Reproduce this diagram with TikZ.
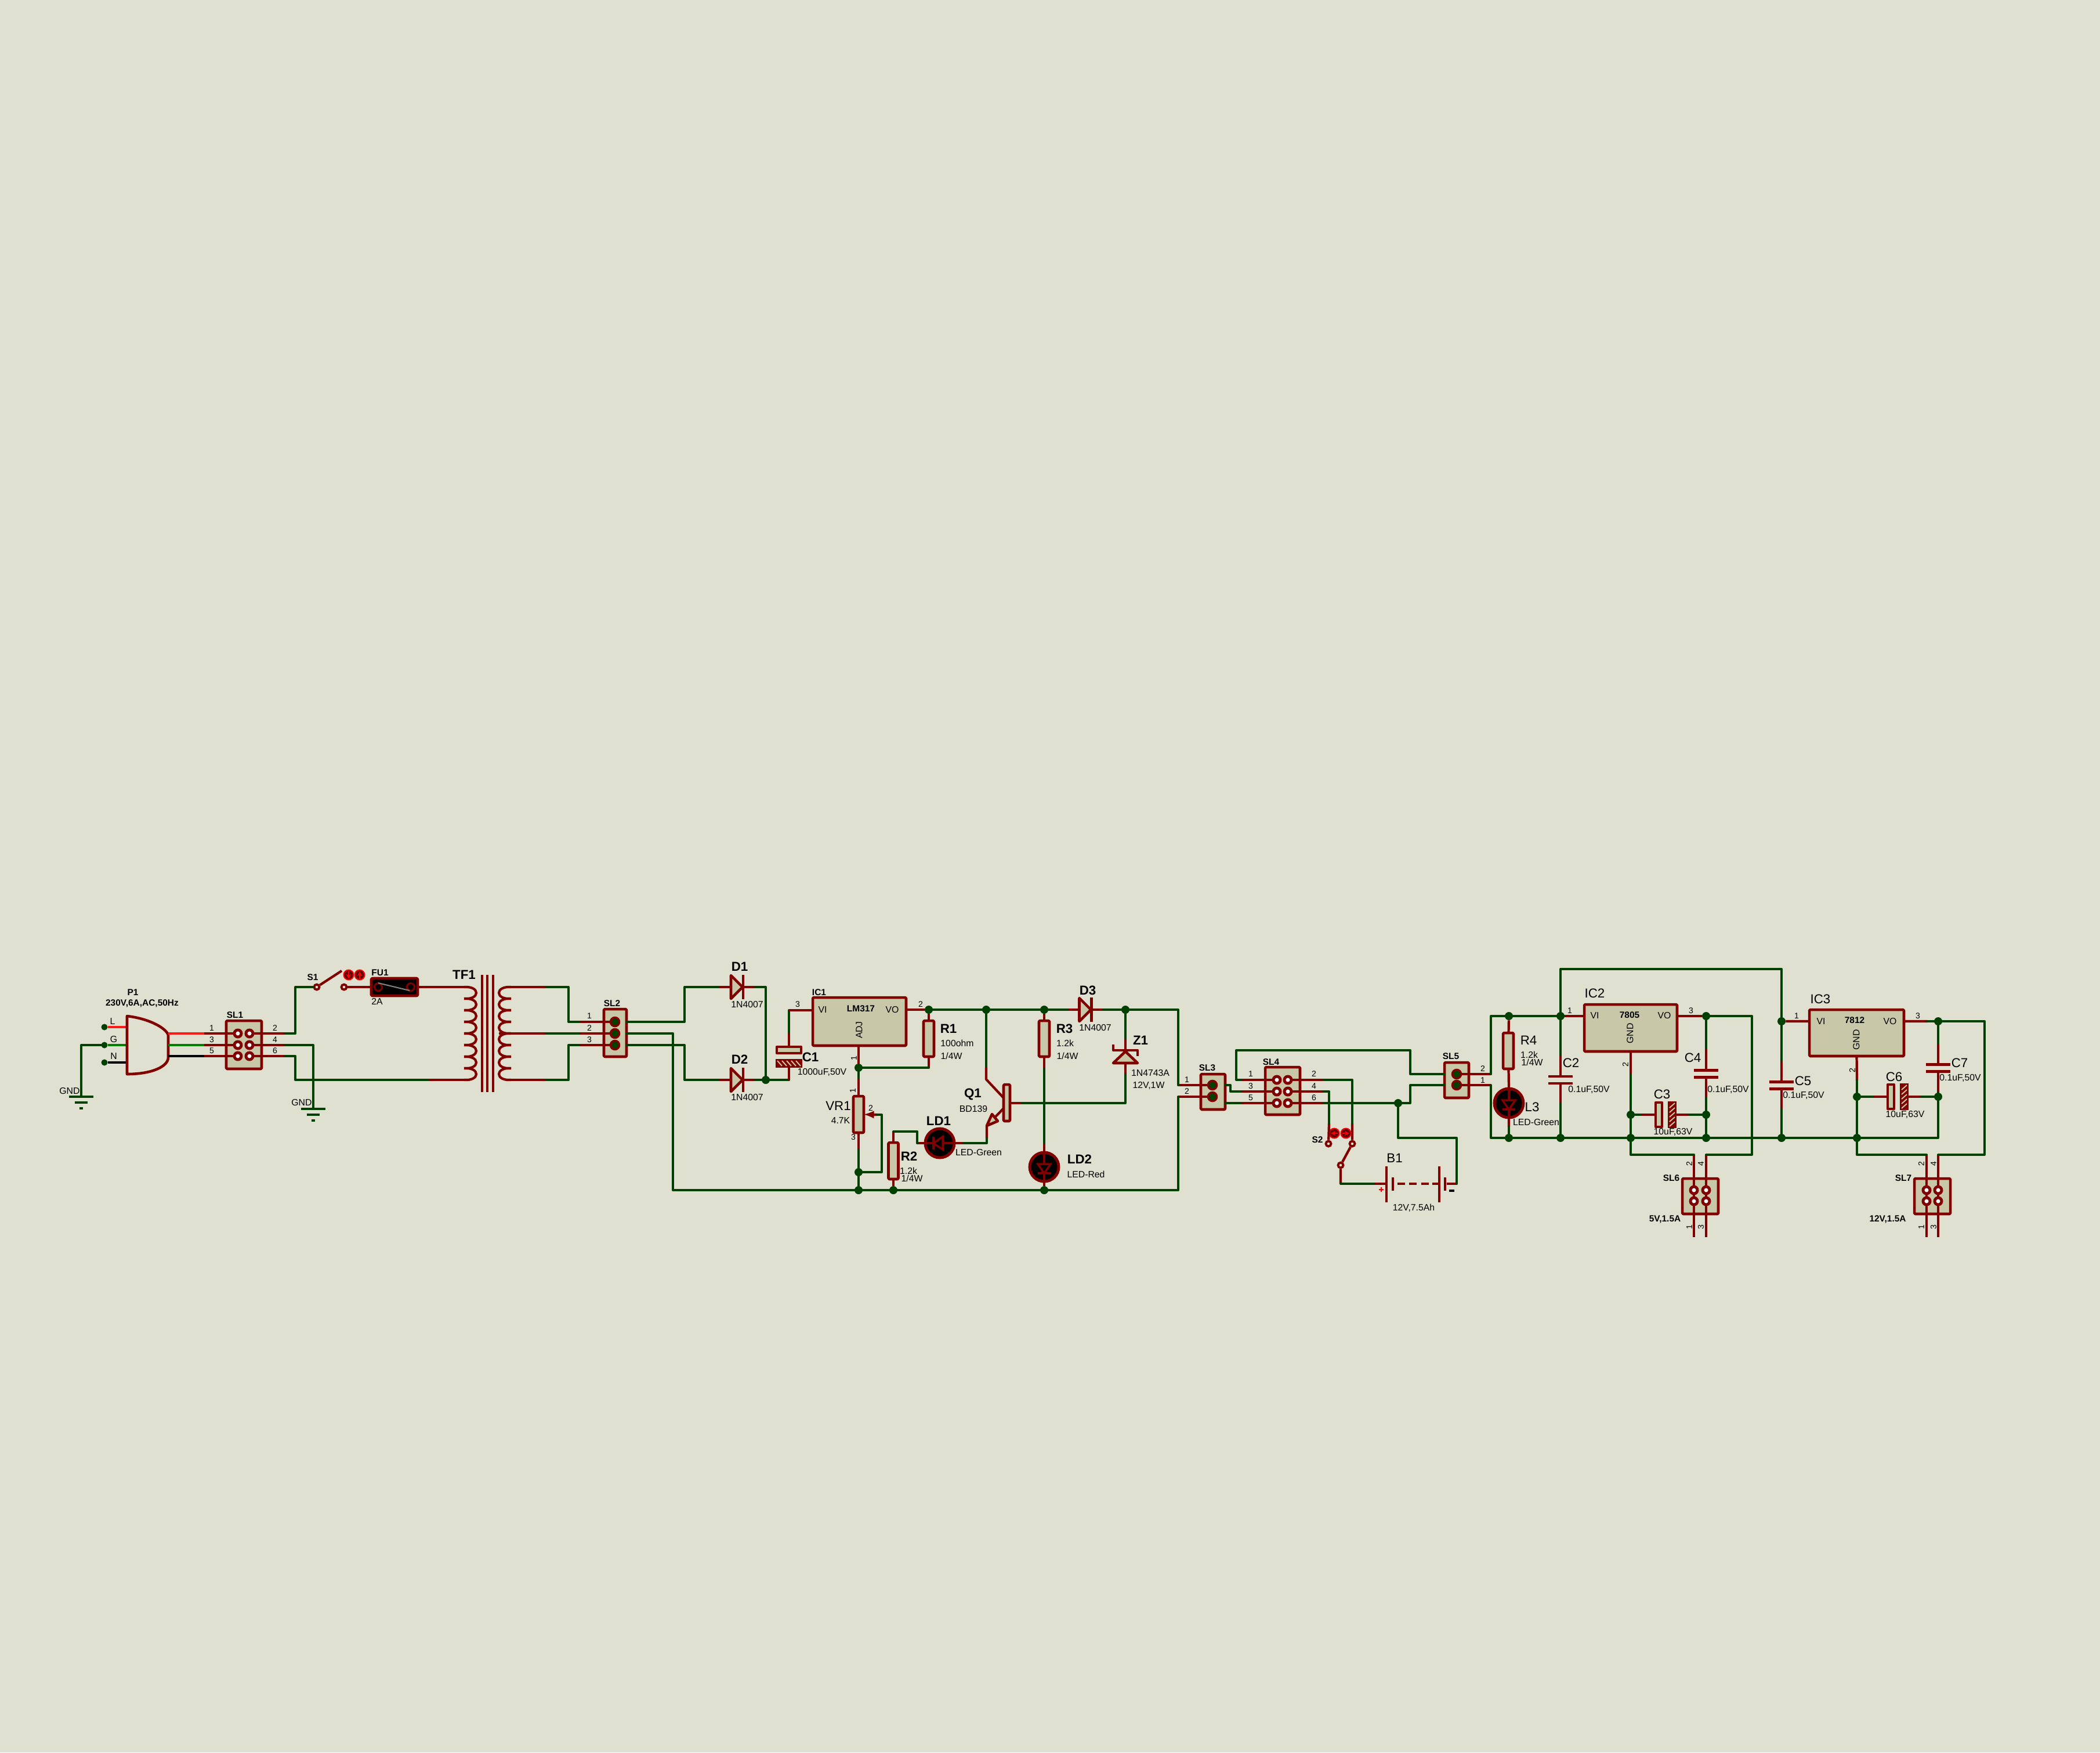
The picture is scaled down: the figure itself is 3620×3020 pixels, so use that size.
\documentclass[tikz,border=0pt]{standalone}
\usepackage{fontspec}
\setmainfont{Liberation Sans}
\definecolor{bgcol}{RGB}{224,224,208}
\definecolor{wirecol}{RGB}{0,64,0}
\definecolor{partcol}{RGB}{128,0,0}
\definecolor{fillcol}{RGB}{200,200,168}
\tikzset{
  wire/.style={draw=wirecol,line width=2.3pt,line join=round,line cap=round},
  lead/.style={draw=partcol,line width=2.4pt,line join=round},
  part/.style={draw=partcol,fill=fillcol,line width=2.6pt,line join=round},
  box/.style={part,rectangle,rounded corners=.03cm,inner sep=0pt,outer sep=0pt},
  dot/.style={circle,fill=wirecol,inner sep=0pt,minimum size=.28cm},
  pin/.style={circle,draw=partcol,fill=wirecol,line width=2pt,inner sep=0pt,minimum size=.3cm},
  hole/.style={circle,draw=partcol,fill=white,line width=2.8pt,inner sep=0pt,minimum size=.24cm},
  contact/.style={circle,draw=partcol,fill=bgcol,line width=2.2pt,inner sep=0pt,minimum size=.18cm},
  btn/.style={circle,draw=red,fill=partcol!75!black,line width=1.1pt,inner sep=0pt,minimum size=.34cm},
  big/.style={inner sep=0pt,font=\fontsize{12.7}{14}\selectfont},
  bigb/.style={inner sep=0pt,font=\fontsize{12.7}{14}\selectfont\bfseries},
  small/.style={inner sep=0pt,font=\fontsize{9}{10}\selectfont},
  smallb/.style={inner sep=0pt,font=\fontsize{8.8}{10}\selectfont\bfseries},
  pinno/.style={inner sep=0pt,font=\fontsize{8}{9}\selectfont},
  diode/.pic={
    \draw[part] (-10,-20)--(10,0)--(-10,20)--cycle;
    \draw[lead] (11,-21)--(11,21);
    \coordinate (-a) at (-10,0);
    \coordinate (-k) at (11,0);
  },
  ledlamp/.pic={
    \draw[draw=partcol,fill=black,line width=2.8pt] (0,0) circle (25);
    \draw[lead] (0,-25)--(0,25);
    \draw[draw=partcol,fill=black,line width=2pt] (-11,-5)--(11,-5)--(0,11)--cycle;
    \draw[lead] (-11,11)--(11,11);
    \coordinate (-a) at (0,-25);
    \coordinate (-k) at (0,25);
  },
  plates/.pic={
    \draw[lead] (-21,-6)--(21,-6) (-21,6)--(21,6);
    \coordinate (-t) at (0,-6);
    \coordinate (-b) at (0,6);
  },
  polar/.pic={
    \draw[part] (-17,-21) rectangle (-6,21);
    \fill[partcol,draw=partcol,line width=2.6pt] (6,-21) rectangle (17,21);
    \foreach \s in {-16,-8,...,16}
      \draw[fillcol,line width=1.1pt] (7,\s+4)--(16,\s-4);
    \coordinate (-p) at (-17,0);
    \coordinate (-n) at (17,0);
  },
  earth/.pic={
    \draw[wire,line cap=butt,line width=2.8pt] (-21,0)--(21,0) (-11,10)--(11,10) (-3,20)--(3,20);
    \coordinate (-t) at (0,0);
  }
}
\begin{document}
\begin{tikzpicture}[x=.02cm,y=-.02cm]
\fill[bgcol] (0,0) rectangle (3620,3020);
\useasboundingbox (0,0) rectangle (3620,3020);
% mains plug
\node[dot,minimum size=.22cm] (PL) at (180,1770) {};
\node[dot,minimum size=.22cm] (PG) at (180,1801) {};
\node[dot,minimum size=.22cm] (PN) at (180,1831) {};
\draw[line width=2.2pt,red!90!white] (PL)--(221,1770);
\draw[line width=2.2pt,green!50!black] (PG)--(221,1801);
\draw[line width=2.2pt,black] (PN)--(221,1831);
\draw[part,fill=none] (219,1751) .. controls (262,1756) and (290,1775) .. (290,1785) -- (290,1822) .. controls (290,1838) and (262,1851) .. (219,1851) -- cycle;
\coordinate (Lo) at (352,1781);
\coordinate (Go) at (352,1801);
\coordinate (No) at (352,1820);
\draw[line width=2.4pt,red!90!white] (290,1781)--(Lo);
\draw[line width=2.4pt,green!50!black] (290,1801)--(Go);
\draw[line width=2.4pt,black] (290,1820)--(No);
\pic (G1) at (140,1890) {earth};
\pic (G2) at (540,1911) {earth};
\draw[wire] (PG) -| (G1-t);
% SL1
\node[box,minimum width=1.22cm,minimum height=1.66cm] (SL1) at (420.5,1800.5) {};
\foreach \n/\hx/\hy in {1/410/1781,3/410/1801,5/410/1820,2/430/1781,4/430/1801,6/430/1820}
  \node[hole] (SL1n\n) at (\hx,\hy) {};
\coordinate (r2) at (492,1781);
\coordinate (r4) at (492,1801);
\coordinate (r6) at (492,1820);
\draw[lead] (Lo)--(SL1n1) (Go)--(SL1n3) (No)--(SL1n5) (SL1n2)--(r2) (SL1n4)--(r4) (SL1n6)--(r6);
% S1 and fuse
\node[contact] (S1a) at (546,1701) {};
\node[contact] (S1b) at (593,1701) {};
\coordinate (S1c) at (589,1673);
\node[btn] (S1u) at (601,1680) {};
\node[btn] (S1v) at (620,1680) {};
\draw[-stealth,red,line width=1.1pt] (601,1674)--(601,1687);
\draw[-stealth,red,line width=1.1pt] (620,1687)--(620,1674);
\draw[lead] (S1a)--(S1c);
\node[box,fill=black,minimum width=1.6cm,minimum height=.6cm] (FU1) at (680,1701) {};
\draw[draw=partcol,line width=1.8pt] (652,1701) circle (6.5) (708,1701) circle (6.5);
\draw[gray,line width=1.2pt] (652,1694)--(706,1707);
\coordinate (Pt) at (802,1701);
\coordinate (Pb) at (802,1861);
\coordinate (Tb) at (738,1861);
\draw[lead] (S1b)--(FU1) (FU1)--(Pt) (Tb)--(Pb);
\draw[wire] (r2) -- ++(17,0) |- (S1a);
\draw[wire] (r4) -| (G2-t);
\draw[wire] (r6) -- ++(17,0) |- (Tb);
% TF1
\foreach \i in {0,...,7}{
  \pgfmathsetmacro{\yy}{1701+20*\i}
  \pgfmathsetmacro{\yz}{\yy+20}
  \draw[lead] (800,\yy) .. controls (828,\yy-2) and (828,\yz+2) .. (800,\yz);
  \draw[lead] (881,\yy) .. controls (853,\yy-2) and (853,\yz+2) .. (881,\yz);
}
\foreach \cx in {831,840,850}
  \draw[draw=partcol,line width=2pt] (\cx,1680)--(\cx,1882);
\coordinate (St) at (878,1701);
\coordinate (Sm) at (860,1781);
\coordinate (Sb) at (878,1861);
\coordinate (Sa) at (942,1701);
\coordinate (Sc) at (942,1781);
\coordinate (Sd) at (942,1861);
\draw[lead] (St)--(Sa) (Sm)--(Sc) (Sb)--(Sd);
% SL2
\node[box,minimum width=.78cm,minimum height=1.64cm] (SL2) at (1060.5,1780) {};
\foreach \n/\hy in {1/1761,2/1781,3/1801}
  \node[pin] (SL2p\n) at (1060,\hy) {};
\coordinate (Se) at (998,1761);
\coordinate (Sf) at (998,1781);
\coordinate (Sg) at (998,1801);
\draw[lead] (Se)--(SL2p1) (Sf)--(SL2p2) (Sg)--(SL2p3);
\draw[wire] (Sa) -- ++(38,0) |- (Se);
\draw[wire] (Sc) -- (Sf);
\draw[wire] (Sd) -- ++(38,0) |- (Sg);
% rectifier
\pic (D1) at (1270,1701) {diode};
\pic (D2) at (1270,1861) {diode};
\coordinate (D1l) at (1238,1701);
\coordinate (D1r) at (1302,1701);
\coordinate (D2l) at (1238,1861);
\coordinate (D2r) at (1302,1861);
\node[dot] (J1) at (1320,1861) {};
\draw[lead] (D1l)--(D1-a) (D1-k)--(D1r) (D2l)--(D2-a) (D2-k)--(D2r);
\draw[wire] (SL2.east |- SL2p1) -- (1180,1761) |- (D1l);
\draw[wire] (SL2.east |- SL2p3) -- (1180,1801) |- (D2l);
\draw[wire] (D1r) -| (J1);
\draw[wire] (D2r) -- (J1);
\pic[rotate=-90] (C1) at (1360,1821) {polar};
\coordinate (C1b) at (1360,1861);
\coordinate (C1t) at (1360,1779);
\coordinate (C1u) at (1360,1741);
\draw[wire] (J1)--(C1b);
\draw[lead] (C1b)--(C1-n) (C1-p)--(C1t);
\draw[wire] (C1t)--(C1u);
% LM317
\node[box,minimum width=3.22cm,minimum height=1.66cm] (IC1) at (1481.5,1760.5) {};
\draw[lead] (C1u)--(IC1.west |- C1u);
\node[dot] (J2) at (1480,1840) {};
\node[dot] (J3) at (1480,2020) {};
\node[dot] (J4) at (1480,2051) {};
\node[dot] (J5) at (1601,1740) {};
\node[dot] (J6) at (1700,1740) {};
\node[dot] (J7) at (1800,1740) {};
\node[dot] (J8) at (1940,1740) {};
\node[dot] (J9) at (1540,2051) {};
\node[dot] (J10) at (1800,2051) {};
\draw[lead] (J2 |- IC1.south)--(J2);
\draw[lead] (IC1.east |- J5)--(J5);
% VR1
\node[box,minimum width=.36cm,minimum height=1.26cm] (VR1) at (1480,1920.5) {};
\coordinate (VRt) at (1480,1859);
\coordinate (VRb) at (1480,1982);
\coordinate (Wp) at (1512,1921);
\draw[wire] (J2)--(VRt);
\draw[lead] (VRt)--(VR1.north);
\draw[lead] (VR1.south)--(VRb);
\draw[wire] (VRb)--(J3)--(J4);
\draw[lead,-latex] (Wp)--(VR1.east);
\draw[wire] (Wp) -- (1520,1921) |- (J3);
% R1
\node[box,minimum width=.36cm,minimum height=1.24cm] (R1) at (1601,1790) {};
\coordinate (R1b) at (1601,1840);
\draw[lead] (J5)--(R1) (R1)--(R1b);
\draw[wire] (R1b)--(J2);
% R2 and LD1
\node[box,minimum width=.34cm,minimum height=1.26cm] (R2) at (1540,2000.5) {};
\pic[rotate=-90] (LD1) at (1620,1970) {ledlamp};
\coordinate (R2t) at (1540,1950);
\coordinate (LD1l) at (1581,1970);
\coordinate (LD1r) at (1661,1970);
\draw[lead] (R2t)--(R2) (R2)--(J9) (LD1l)--(LD1-k) (LD1-a)--(LD1r);
\draw[wire] (LD1l) |- (R2t);
% Q1
\node[box,minimum width=.22cm,minimum height=1.26cm] (Q1) at (1735.5,1900.5) {};
\coordinate (Qc) at (1700,1840);
\coordinate (Qb) at (1762,1901);
\coordinate (Qe) at (1701,1962);
\draw[wire] (J6)--(Qc);
\draw[lead] (Qc) -- ++(0,20) -- (1730,1892);
\draw[lead] (1730,1910)--(1701,1940)--(Qe);
\draw[part] (1701,1940)--(1710,1920)--(1720,1932)--cycle;
\draw[lead] (Q1.east |- Qb)--(Qb);
\draw[wire] (Qe) |- (LD1r);
% R3 and LD2
\node[box,minimum width=.36cm,minimum height=1.24cm] (R3) at (1800,1790) {};
\pic (LD2) at (1800,2011) {ledlamp};
\coordinate (R3b) at (1800,1842);
\coordinate (LD2t) at (1800,1970);
\draw[lead] (J7)--(R3) (R3)--(R3b) (LD2t)--(LD2-a) (LD2-k)--(J10);
\draw[wire] (R3b)--(LD2t);
% D3 and Z1
\pic (D3) at (1870.5,1740) {diode};
\coordinate (D3l) at (1840,1740);
\coordinate (D3r) at (1902,1740);
\draw[lead] (D3l)--(D3-a) (D3-k)--(D3r);
\draw[wire] (J5)--(J6)--(J7)--(D3l);
\draw[wire] (D3r)--(J8);
\coordinate (Z1t) at (1940,1789);
\coordinate (Z1b) at (1940,1852);
\coordinate (Z1k) at (1940,1810);
\coordinate (Z1a) at (1940,1832);
\draw[part] (1919,1832)--(1940,1812)--(1961,1832)--cycle;
\draw[lead] (1919,1800)--(1919,1810)--(1961,1810)--(1961,1820);
\draw[lead] (Z1t)--(Z1k) (Z1a)--(Z1b);
\draw[wire] (J8)--(Z1t);
\draw[wire] (Qb) -| (Z1b);
% SL3
\node[box,minimum width=.84cm,minimum height=1.22cm] (SL3) at (2091,1881.5) {};
\node[pin] (SL3p1) at (2090,1870) {};
\node[pin] (SL3p2) at (2090,1890) {};
\coordinate (SL3a) at (2031,1870);
\coordinate (SL3b) at (2031,1890);
\draw[lead] (SL3a)--(SL3p1) (SL3b)--(SL3p2);
\draw[wire] (J8) -| (SL3a);
\draw[wire] (SL2.east |- SL2p2) -- (1160,1781) |- (2031,2051) -- (SL3b);
% SL4
\node[box,minimum width=1.2cm,minimum height=1.64cm] (SL4) at (2211,1880) {};
\foreach \n/\hx/\hy in {1/2201/1861,3/2201/1881,5/2201/1901,2/2220/1861,4/2220/1881,6/2220/1901}
  \node[hole] (SL4n\n) at (\hx,\hy) {};
\coordinate (S4a) at (2139,1861);
\coordinate (S4e) at (2139,1881);
\coordinate (S4f) at (2139,1901);
\coordinate (S4b) at (2282,1861);
\coordinate (S4c) at (2282,1881);
\coordinate (S4d) at (2282,1901);
\draw[lead] (S4a)--(SL4n1) (S4e)--(SL4n3) (S4f)--(SL4n5) (SL4n2)--(S4b) (SL4n4)--(S4c) (SL4n6)--(S4d);
\draw[wire] (SL3.east |- SL3p1) -- (2121,1870) |- (S4e);
\draw[wire] (SL3.east |- S4f) -- (S4f);
% SL5
\node[box,minimum width=.84cm,minimum height=1.22cm] (SL5) at (2511,1861.5) {};
\node[pin] (SL5p2) at (2511,1851) {};
\node[pin] (SL5p1) at (2511,1870) {};
\coordinate (S5a) at (2570,1851);
\coordinate (S5b) at (2570,1870);
\draw[lead] (SL5p2)--(S5a) (SL5p1)--(S5b);
\draw[wire] (S4a) -- ++(-8,0) |- (2431,1810) |- (SL5.west |- SL5p2);
\node[dot] (J11) at (2410,1901) {};
\draw[wire] (S4d)--(J11) -- (2431,1901) |- (SL5.west |- SL5p1);
% S2 and B1
\node[contact] (S2a) at (2290,1971) {};
\node[contact] (S2b) at (2331,1971) {};
\node[contact] (S2c) at (2311,2008) {};
\node[btn] (S2u) at (2300,1953) {};
\node[btn] (S2v) at (2320,1953) {};
\draw[-stealth,red,line width=1.1pt] (2306,1953)--(2294,1953);
\draw[-stealth,red,line width=1.1pt] (2314,1953)--(2326,1953);
\coordinate (S2e) at (2291,1936);
\coordinate (S2f) at (2331,1936);
\coordinate (S2s) at (2311,2040);
\draw[lead] (S2e)--(S2a) (S2f)--(S2b) (S2b)--(S2c) (S2c)--(S2s);
\draw[wire] (S4c) -| (S2e);
\draw[wire] (S4b) -| (S2f);
\coordinate (B1a) at (2369,2040);
\coordinate (B1r) at (2511,2040);
\draw[wire] (S2s)--(B1a);
\draw[lead] (B1a)--(2390,2040) (2494,2040)--(B1r);
\draw[lead] (2390,2010)--(2390,2072) (2481,2010)--(2481,2072);
\draw[lead,line width=2.8pt] (2401,2029)--(2401,2052) (2491,2029)--(2491,2052);
\foreach \sx in {2409,2429,2450,2469}
  \draw[lead] (\sx,2040)--(\sx+13,2040);
\draw[wire] (J11) |- (2511,1961) -- (B1r);
\fill[red] (2377,2049) rectangle (2385,2051) (2380,2046) rectangle (2382,2054);
\fill[black] (2498,2050) rectangle (2507,2054);
% R4 and L3
\node[dot] (J12) at (2601,1751) {};
\node[dot] (J13) at (2601,1961) {};
\node[dot] (J14) at (2690,1751) {};
\node[dot] (J17) at (2690,1961) {};
\node[box,minimum width=.36cm,minimum height=1.24cm] (R4) at (2600,1811) {};
\pic (L3) at (2601,1901) {ledlamp};
\coordinate (L3b) at (2601,1942);
\draw[lead] (J12)--(R4) (R4)--(L3-a) (L3-k)--(L3b);
\draw[wire] (L3b)--(J13);
\draw[wire] (S5a) |- (J12);
\draw[wire] (J12)--(J14);
\draw[wire] (S5b) |- (J13);
% IC2
\node[box,minimum width=3.2cm,minimum height=1.62cm] (IC2) at (2811,1771.5) {};
\node[dot] (J18) at (2811,1961) {};
\node[dot] (J19) at (2941,1961) {};
\node[dot] (J22) at (2941,1751) {};
\node[dot] (J23) at (2941,1921) {};
\node[dot] (J24) at (2811,1921) {};
\draw[lead] (J14)--(IC2.west |- J14) (IC2.east |- J22)--(J22);
\pic (C2) at (2690,1861) {plates};
\coordinate (C2t) at (2690,1820);
\coordinate (C2b) at (2690,1902);
\draw[wire] (J14)--(C2t);
\draw[lead] (C2t)--(C2-t) (C2-b)--(C2b);
\draw[wire] (C2b)--(J17);
\pic (C4) at (2941,1850.5) {plates};
\coordinate (C4t) at (2941,1808);
\coordinate (C4b) at (2941,1892);
\draw[wire] (J22)--(C4t);
\draw[lead] (C4t)--(C4-t) (C4-b)--(C4b);
\draw[wire] (C4b)--(J23)--(J19);
\coordinate (IC2g) at (2811,1852);
\draw[lead] (IC2.south)--(IC2g);
\draw[wire] (IC2g)--(J24)--(J18);
\pic (C3) at (2871,1921) {polar};
\coordinate (C3l) at (2830,1921);
\coordinate (C3r) at (2912,1921);
\draw[wire] (J24)--(C3l);
\draw[lead] (C3l)--(C3-p) (C3-n)--(C3r);
\draw[wire] (C3r)--(J23);
% SL6
\node[box,minimum width=1.24cm,minimum height=1.22cm] (SL6) at (2931,2061.5) {};
\coordinate (S6a) at (2920,1990);
\coordinate (S6b) at (2941,1990);
\coordinate (S6c) at (2920,2132);
\coordinate (S6d) at (2941,2132);
\draw[lead] (S6a)--(S6c) (S6b)--(S6d);
\foreach \n/\hx/\hy in {2/2920/2051,4/2941/2051,1/2920/2070,3/2941/2070}
  \node[hole] (SL6n\n) at (\hx,\hy) {};
\draw[wire] (J18) |- (S6a);
\draw[wire] (J22) -- (3020,1751) |- (S6b);
% C5 and IC3
\node[dot] (J15) at (3071,1760) {};
\node[dot] (J16) at (3071,1961) {};
\node[dot] (J20) at (3201,1961) {};
\node[dot] (J21) at (3341,1890) {};
\node[dot] (J25) at (3341,1760) {};
\node[dot] (J26) at (3201,1890) {};
\draw[wire] (J14) |- (3071,1670) -- (J15);
\pic (C5) at (3071,1870.5) {plates};
\coordinate (C5t) at (3071,1830);
\coordinate (C5b) at (3071,1912);
\draw[wire] (J15)--(C5t);
\draw[lead] (C5t)--(C5-t) (C5-b)--(C5b);
\draw[wire] (C5b)--(J16);
\draw[wire] (J13)--(J17)--(J18)--(J19)--(J16)--(J20) -| (J21);
\node[box,minimum width=3.26cm,minimum height=1.6cm] (IC3) at (3200.5,1780) {};
\coordinate (IC3o) at (3322,1760);
\coordinate (IC3g) at (3201,1862);
\draw[lead] (J15)--(IC3.west |- J15) (IC3.east |- J25)--(IC3o) (IC3.south)--(IC3g);
\draw[wire] (IC3o)--(J25);
\draw[wire] (IC3g)--(J26)--(J20);
\pic (C7) at (3341,1840.5) {plates};
\coordinate (C7t) at (3341,1799);
\coordinate (C7b) at (3341,1883);
\draw[wire] (J25)--(C7t);
\draw[lead] (C7t)--(C7-t) (C7-b)--(C7b);
\draw[wire] (C7b)--(J21);
\pic (C6) at (3271,1890) {polar};
\coordinate (C6l) at (3229,1890);
\coordinate (C6r) at (3312,1890);
\draw[wire] (J26)--(C6l);
\draw[lead] (C6l)--(C6-p) (C6-n)--(C6r);
\draw[wire] (C6r)--(J21);
% SL7
\node[box,minimum width=1.24cm,minimum height=1.22cm] (SL7) at (3331,2061.5) {};
\coordinate (S7a) at (3321,1990);
\coordinate (S7b) at (3341,1990);
\coordinate (S7c) at (3321,2132);
\coordinate (S7d) at (3341,2132);
\draw[lead] (S7a)--(S7c) (S7b)--(S7d);
\foreach \n/\hx/\hy in {2/3321/2051,4/3341/2051,1/3321/2070,3/3341/2070}
  \node[hole] (SL7n\n) at (\hx,\hy) {};
\draw[wire] (J20) |- (S7a);
\draw[wire] (J25) -- (3421,1760) |- (S7b);
% bold labels
\foreach \x/\y/\t in {229/1710/P1,245/1729/{230V,6A,AC,50Hz},405/1749/SL1,539/1684/S1,655/1676/FU1,1055/1729/SL2,1412/1710/IC1,1484/1738/LM317,2081/1840/SL3,2191/1830/SL4,2501/1820/SL5,2271/1964/S2,2809/1749/7805,3197/1758/7812,2881/2030/SL6,3281/2030/SL7,2870/2101/{5V,1.5A},3254/2101/{12V,1.5A}}
  \node[smallb] at (\x,\y) {\t};
\foreach \x/\y/\t in {800/1680/TF1,1275/1666/D1,1275/1826/D2,1397/1822/C1,1635/1773/R1,1835/1773/R3,1875/1707/D3,1966/1793/Z1,1677/1886/Q1,1618/1932/LD1,1861/1998/LD2,1567/1993/R2}
  \node[bigb] at (\x,\y) {\t};
\foreach \x/\y/\t in {1445/1906/VR1,2404/1996/B1,2635/1793/R4,2641/1908/L3,2708/1832/C2,2918/1823/C4,2865/1886/C3,2749/1712/IC2,3138/1722/IC3,3108/1863/C5,3378/1832/C7,3265/1856/C6}
  \node[big] at (\x,\y) {\t};
\foreach \x/\y/\t in {194/1760/L,196/1791/G,196/1820/N,120/1880/GND,520/1900/GND,650/1726/2A,1288/1731/1N4007,1288/1891/1N4007,1417/1848/{1000uF,50V},1418/1740/VI,1538/1740/VO,1449/1931/4.7K,1650/1798/100ohm,1640/1820/{1/4W},1836/1798/1.2k,1840/1820/{1/4W},1888/1771/1N4007,1983/1849/1N4743A,1980/1871/{12V,1W},1678/1911/BD139,1687/1986/LED-Green,1872/2024/LED-Red,1566/2018/1.2k,1572/2031/{1/4W},2437/2082/{12V,7.5Ah},2636/1818/1.2k,2641/1831/{1/4W},2648/1934/LED-Green,2739/1878/{0.1uF,50V},2979/1878/{0.1uF,50V},2884/1951/{10uF,63V},2749/1750/VI,2869/1750/VO,3109/1888/{0.1uF,50V},3139/1760/VI,3258/1760/VO,3379/1858/{0.1uF,50V},3284/1921/{10uF,63V}}
  \node[small] at (\x,\y) {\t};
\foreach \x/\y/\t in {1481/1775/ADJ,2810/1781/GND,3200/1792/GND}
  \node[small,rotate=90] at (\x,\y) {\t};
% pin numbers
\foreach \x/\y/\t in {365/1772/1,365/1792/3,365/1811/5,474/1772/2,474/1792/4,474/1811/6,1016/1751/1,1016/1772/2,1016/1792/3,1375/1731/3,1587/1731/2,1501/1910/2,1471/1960/3,2046/1861/1,2046/1881/2,2156/1851/1,2156/1872/3,2156/1892/5,2265/1851/2,2265/1872/4,2265/1892/6,2556/1842/2,2556/1862/1,2706/1742/1,2915/1742/3,3097/1751/1,3306/1751/3}
  \node[pinno] at (\x,\y) {\t};
\foreach \x/\y/\t in {1472/1824/1,1470/1880/1,2802/1835/2,2912/2006/2,2932/2006/4,2912/2115/1,2932/2115/3,3193/1845/2,3312/2006/2,3333/2006/4,3312/2115/1,3333/2115/3}
  \node[pinno,rotate=90] at (\x,\y) {\t};
\end{tikzpicture}
\end{document}
